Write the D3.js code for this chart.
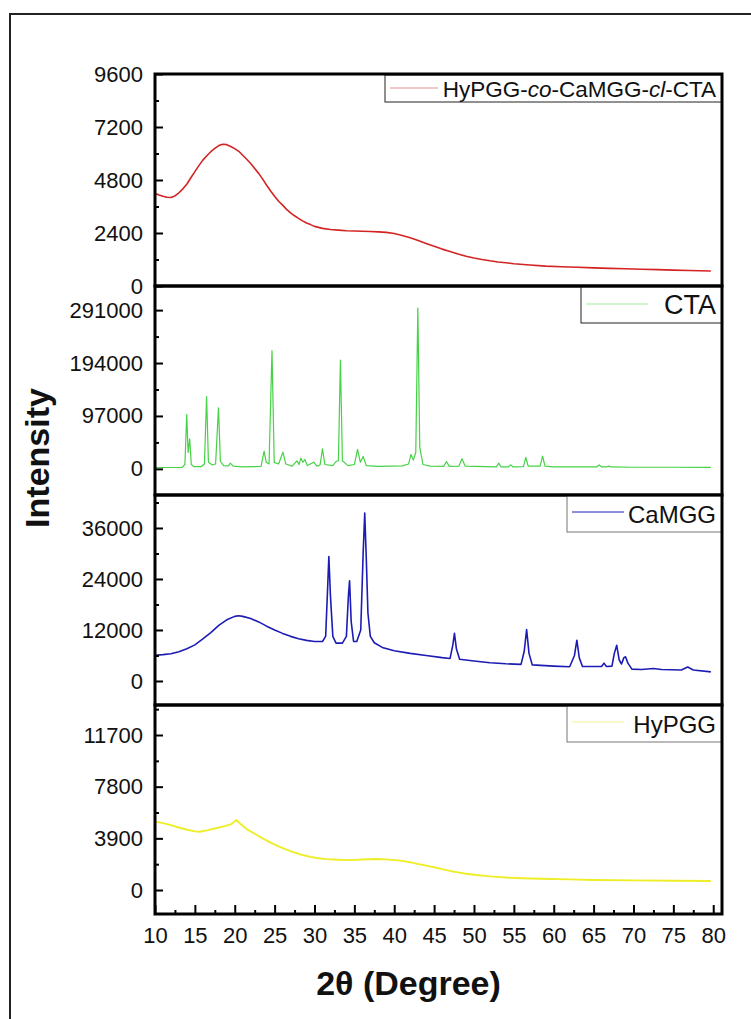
<!DOCTYPE html>
<html>
<head>
<meta charset="utf-8">
<script src="https://cdn.jsdelivr.net/npm/d3@7"></script>
<style>
body { margin: 0; background: #fff; }
text { font-family: "Liberation Sans", Arial, sans-serif; }
</style>
</head>
<body>
<div id="container"></div>
<script>
let w = 751;
let h = 1019;

// DATA
let xTicks = [10, 15, 20, 25, 30, 35, 40, 45, 50, 55, 60, 65, 70, 75, 80];
let xMinor = [12.5, 17.5, 22.5, 27.5, 32.5, 37.5, 42.5, 47.5, 52.5, 57.5, 62.5, 67.5, 72.5, 77.5];

let hybridTicks = [0, 2400, 4800, 7200, 9600];
let ctaTicks = [0, 97000, 194000, 291000];
let camggTicks = [0, 12000, 24000, 36000];
let hypggTicks = [0, 3900, 7800, 11700];

let hybridData = [[10,4200],[10.5,4120],[11,4060],[11.5,4020],[12,4010],[12.5,4080],[13,4220],[13.5,4400],[14,4620],[14.5,4900],[15,5180],[15.5,5450],[16,5700],[16.5,5900],[17,6080],[17.5,6230],[18,6360],[18.5,6420],[19,6400],[19.5,6320],[20,6220],[20.5,6100],[21,5920],[21.5,5740],[22,5550],[22.5,5320],[23,5100],[23.5,4840],[24,4560],[24.5,4300],[25,4060],[25.5,3840],[26,3660],[26.5,3470],[27,3310],[27.5,3180],[28,3060],[28.5,2950],[29,2850],[29.5,2780],[30,2700],[31,2610],[32,2560],[33,2530],[34,2500],[35,2490],[36,2480],[37,2470],[38,2450],[39,2430],[40,2380],[41,2290],[42,2180],[43,2060],[44,1930],[45,1800],[46,1670],[47,1560],[48,1450],[49,1350],[50,1270],[51,1200],[52,1140],[53,1090],[54,1050],[55,1010],[57,950],[59,900],[61,870],[63,850],[65,820],[67,800],[69,780],[71,760],[73,740],[75,720],[77,700],[79.7,680]];

let ctaData = [[10,2500],[13.4,2800],[13.75,8000],[13.98,99500],[14.15,30000],[14.35,55000],[14.55,8000],[14.9,4000],[15.8,4200],[16.2,9000],[16.47,132600],[16.7,12000],[17.2,7000],[17.6,9000],[17.96,112000],[18.2,14000],[18.6,6000],[19.2,5500],[19.45,10400],[19.8,5000],[21,3500],[23.3,4500],[23.68,32500],[23.95,12000],[24.3,9000],[24.67,216700],[24.95,12000],[25.5,9000],[26.04,30700],[26.4,9000],[27.2,5000],[27.8,14700],[28.05,8000],[28.3,19600],[28.55,12000],[28.8,17200],[29.1,6000],[29.9,12300],[30.3,5000],[30.7,7000],[31.0,36800],[31.3,8000],[32.3,6000],[32.7,13500],[33.0,15000],[33.25,199500],[33.5,15000],[34.2,6000],[35.0,8000],[35.4,35600],[35.75,12000],[36.1,22700],[36.5,6000],[38,4500],[41,5500],[41.8,9000],[42.1,26400],[42.4,16000],[42.7,30000],[42.96,294700],[43.2,40000],[43.6,8000],[44.5,5000],[46.2,4500],[46.55,13500],[46.9,4500],[48.1,5000],[48.5,18400],[48.9,5000],[52.8,3500],[53.1,10400],[53.4,3500],[54.3,3500],[54.6,7400],[54.9,3500],[56.2,4000],[56.5,20900],[56.8,5000],[57.5,5000],[58.3,5000],[58.6,23300],[58.9,5000],[60,3500],[65.4,3500],[65.7,7400],[66.0,3500],[66.6,3500],[66.9,4900],[67.2,3500],[70,3000],[75,3000],[79.7,2800]];

let camggData = [[10,6070],[11,6200],[12,6400],[13,6900],[14,7600],[15,8500],[16,9900],[17,11400],[18,13100],[19,14400],[20,15200],[20.5,15350],[21,15200],[22,14700],[23,13900],[24,12900],[25,12000],[26,11200],[27,10500],[28,9950],[29,9550],[30,9300],[31,9300],[31.4,10500],[31.65,22000],[31.8,29300],[32.0,20000],[32.3,10500],[32.7,8900],[33.5,8900],[34.0,10500],[34.25,20000],[34.4,23600],[34.6,14000],[34.9,9300],[35.3,9300],[35.8,12000],[36.1,30000],[36.3,39500],[36.5,28500],[36.7,16000],[37.0,10500],[37.5,9000],[38.5,7900],[40,7100],[42,6500],[44,6000],[46,5500],[47.0,5300],[47.35,8500],[47.55,11200],[47.8,7500],[48.2,5100],[50,4700],[52,4300],[54,4050],[55.9,3900],[56.3,7000],[56.6,12100],[56.9,6500],[57.3,3800],[60,3500],[62,3350],[62.6,6000],[62.9,9600],[63.2,5500],[63.6,3400],[66,3400],[66.3,4200],[66.6,3400],[67.3,3500],[67.6,6500],[67.9,8400],[68.2,5000],[68.5,4000],[68.8,5500],[69.0,5700],[69.3,4200],[69.8,2800],[71,2700],[72.5,2950],[73.5,2700],[76,2600],[76.8,3300],[77.5,2600],[79.7,2150]];

let hypggData = [[10,5160],[11,5050],[12,4900],[13,4720],[14,4550],[15,4430],[15.6,4400],[16.5,4500],[17.5,4640],[18.5,4780],[19.5,4950],[20.2,5280],[20.8,4950],[21.5,4600],[22.5,4250],[23.5,3900],[24.5,3580],[25.5,3300],[26.5,3050],[27.5,2830],[28.5,2640],[29.5,2500],[30.5,2400],[31.5,2330],[33,2280],[34.5,2260],[36,2300],[37.7,2340],[39,2310],[40.8,2220],[42,2100],[43,1960],[44,1840],[45,1720],[46,1580],[47,1440],[48,1330],[49,1230],[50.3,1130],[52,1030],[54.5,930],[57,870],[59.8,830],[62,800],[65,760],[70,730],[75,700],[79.7,680]];

// LAYOUT
let left = 155;
let right = 722;

let panels = [
  {data: hybridData, ticks: hybridTicks, top: 74, bottom: 286, domain: [0, 9600], color: "#d42323", width: 1.6,
   legend: {x: 385, y: 75, w: 337, h: 27, lx1: 390, lx2: 438, ly: 88, tx: 716, ty: 97, size: 22.5}},
  {data: ctaData, ticks: ctaTicks, top: 286, bottom: 495, domain: [-47900, 335200], color: "#45d245", width: 1.2,
   legend: {x: 581, y: 287, w: 141, h: 36, lx1: 586, lx2: 648, ly: 304, tx: 716, ty: 314, size: 27}},
  {data: camggData, ticks: camggTicks, top: 495, bottom: 705, domain: [-5650, 43760], color: "#1c1cb4", width: 1.6,
   legend: {x: 567, y: 496, w: 155, h: 36, lx1: 572, lx2: 624, ly: 512, tx: 716, ty: 523, size: 24}},
  {data: hypggData, ticks: hypggTicks, top: 705, bottom: 914, domain: [-1810, 13965], color: "#eeee28", width: 1.9,
   legend: {x: 567, y: 706, w: 155, h: 36, lx1: 572, lx2: 624, ly: 722, tx: 716, ty: 733, size: 24}}
];

let legendNames = [
  [["HyPGG-", false], ["co", true], ["-CaMGG-", false], ["cl", true], ["-CTA", false]],
  [["CTA", false]],
  [["CaMGG", false]],
  [["HyPGG", false]]
];

// SVG
let viz = d3.select("#container").append("svg")
    .attr("width", w)
    .attr("height", h)
    .style("background-color", "white")
;

// outer frame
viz.append("rect")
  .attr("x", 10).attr("y", 14)
  .attr("width", 760).attr("height", 1030)
  .attr("fill", "none")
  .attr("stroke", "#222")
  .attr("stroke-width", 2);

let xScale = d3.scaleLinear().domain([10, 81.1]).range([left, right]);

panels.forEach(function(p, i){
  let yScale = d3.scaleLinear().domain(p.domain).range([p.bottom, p.top]);

  viz.append("clipPath").attr("id", "clip" + i)
    .append("rect")
      .attr("x", left).attr("y", p.top)
      .attr("width", right - left).attr("height", p.bottom - p.top);

  let lineMaker = d3.line()
      .x(function(d){ return xScale(d[0]); })
      .y(function(d){ return yScale(d[1]); });

  viz.append("path")
    .datum(p.data)
    .attr("d", lineMaker)
    .attr("clip-path", "url(#clip" + i + ")")
    .attr("fill", "none")
    .attr("stroke", p.color)
    .attr("stroke-width", p.width)
    .attr("stroke-linejoin", "round");

  // y axis, ticks pointing into the plot
  let step = p.ticks[1] - p.ticks[0];
  let minor = d3.range(p.ticks[0] - step / 2, p.domain[1], step)
      .filter(function(v){ return v > p.domain[0] && v < p.domain[1]; });

  let yAxis = viz.append("g")
    .attr("transform", "translate(" + left + ",0)")
    .call(d3.axisLeft(yScale).tickValues(p.ticks).tickSize(-8).tickPadding(12).tickFormat(d3.format("d")));
  yAxis.select(".domain").remove();
  yAxis.selectAll(".tick line").attr("stroke", "#000").attr("stroke-width", 2);
  yAxis.selectAll("text").attr("font-size", 22).attr("fill", "#111")
    .style("font-family", "'Liberation Sans', Arial, sans-serif");

  let yMinor = viz.append("g")
    .attr("transform", "translate(" + left + ",0)")
    .call(d3.axisLeft(yScale).tickValues(minor).tickSize(-4).tickFormat(""));
  yMinor.select(".domain").remove();
  yMinor.selectAll(".tick line").attr("stroke", "#000").attr("stroke-width", 2);

  // legend
  let L = p.legend;
  viz.append("rect")
    .attr("x", L.x).attr("y", L.y)
    .attr("width", L.w).attr("height", L.h)
    .attr("fill", "white")
    .attr("stroke", i < 2 ? "#222" : "#777")
    .attr("stroke-width", 1);
  viz.append("line")
    .attr("x1", L.lx1).attr("x2", L.lx2)
    .attr("y1", L.ly).attr("y2", L.ly)
    .attr("stroke", p.color)
    .attr("stroke-opacity", i == 2 ? 1 : 0.5)
    .attr("stroke-width", 1);
  let t = viz.append("text")
    .attr("x", L.tx).attr("y", L.ty)
    .attr("text-anchor", "end")
    .attr("font-size", L.size)
    .attr("fill", "#111");
  legendNames[i].forEach(function(part){
    t.append("tspan").text(part[0]).attr("font-style", part[1] ? "italic" : "normal");
  });

  // panel frame
  viz.append("rect")
    .attr("x", left).attr("y", p.top)
    .attr("width", right - left).attr("height", p.bottom - p.top)
    .attr("fill", "none")
    .attr("stroke", "#000")
    .attr("stroke-width", 3);
});

// x axis at the bottom of the last panel
let bottomY = panels[3].bottom;
let xAxis = viz.append("g")
  .attr("transform", "translate(0," + bottomY + ")")
  .call(d3.axisBottom(xScale).tickValues(xTicks).tickSize(-9).tickPadding(13));
xAxis.select(".domain").remove();
xAxis.selectAll(".tick line").attr("stroke", "#000").attr("stroke-width", 2);
xAxis.selectAll("text").attr("font-size", 22).attr("fill", "#111")
  .style("font-family", "'Liberation Sans', Arial, sans-serif");

let xMinorAxis = viz.append("g")
  .attr("transform", "translate(0," + bottomY + ")")
  .call(d3.axisBottom(xScale).tickValues(xMinor).tickSize(-4).tickFormat(""));
xMinorAxis.select(".domain").remove();
xMinorAxis.selectAll(".tick line").attr("stroke", "#000").attr("stroke-width", 2);

// axis titles
viz.append("text")
  .attr("x", (left + right) / 2 - 30)
  .attr("y", 995)
  .attr("text-anchor", "middle")
  .attr("font-size", 34)
  .attr("font-weight", "bold")
  .attr("fill", "#111")
  .text("2θ (Degree)");

viz.append("text")
  .attr("transform", "translate(49,458) rotate(-90)")
  .attr("text-anchor", "middle")
  .attr("font-size", 34)
  .attr("font-weight", "bold")
  .attr("fill", "#111")
  .text("Intensity");
</script>
</body>
</html>
